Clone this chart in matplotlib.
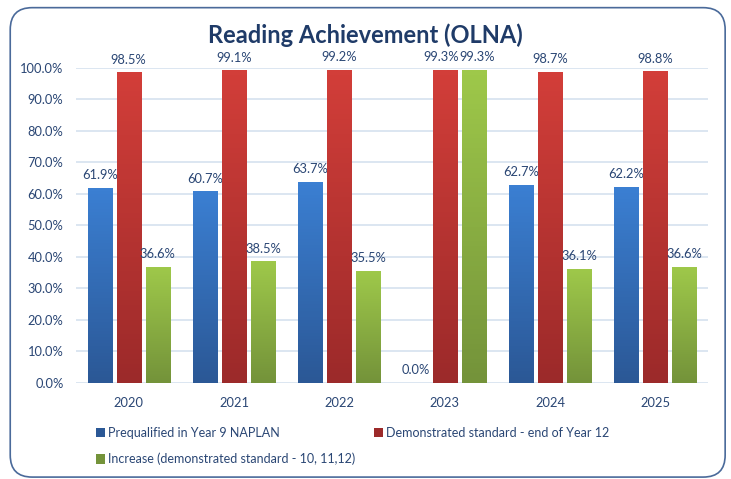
import numpy as np
import matplotlib.pyplot as plt
from matplotlib.patches import FancyBboxPatch
from matplotlib.colors import LinearSegmentedColormap

# data
years = ['2020', '2021', '2022', '2023', '2024', '2025']
prequalified = [61.9, 60.7, 63.7, 0.0, 62.7, 62.2]
demonstrated = [98.5, 99.1, 99.2, 99.3, 98.7, 98.8]
increase = [36.6, 38.5, 35.5, 99.3, 36.1, 36.6]
series_names = ['Prequalified in Year 9 NAPLAN',
                'Demonstrated standard - end of Year 12',
                'Increase (demonstrated standard - 10, 11,12)']

# (top colour, bottom colour) for the vertical gradient of each series
grads = [('#3B7FD2', '#2B5896'), ('#D23E39', '#9C2A2A'), ('#9EC84A', '#74933A')]
txt = '#2A4674'

plt.rcParams['font.family'] = ['Lato', 'DejaVu Sans']

fig = plt.figure(figsize=(7.31, 4.79), dpi=100)
fig.patch.set_facecolor('white')
frame = FancyBboxPatch((0.014, 0.004), 0.978, 0.98, boxstyle='round,pad=0,rounding_size=0.03',
                       transform=fig.transFigure, facecolor='none', edgecolor='#4A6A9A',
                       linewidth=1.2, mutation_aspect=731 / 479, zorder=-1)
fig.patches.append(frame)

ax = fig.add_axes([0.104, 0.201, 0.8646, 0.6576])
ax.set_facecolor('none')

x = np.arange(len(years))
w = 0.228
step = 0.275
handles = []
for i, (vals, (ctop, cbot)) in enumerate(zip([prequalified, demonstrated, increase], grads)):
    bars = ax.bar(x + (i - 1) * step, vals, w, color=cbot, label=series_names[i], zorder=2)
    handles.append(bars)
    cmap = LinearSegmentedColormap.from_list('g%d' % i, [cbot, ctop])
    for j, (b, v) in enumerate(zip(bars, vals)):
        if v > 0:
            ax.imshow(np.linspace(0, 1, 64).reshape(-1, 1), cmap=cmap, aspect='auto', origin='lower',
                      extent=[b.get_x(), b.get_x() + b.get_width(), 0, v], zorder=3)
        # 2023: red and green labels sit side by side, push them apart a little
        dx = 0
        if i > 0 and abs(demonstrated[j] - increase[j]) < 3:
            dx = -2.5 if i == 1 else 2.5
        ax.annotate('%.1f%%' % v, (b.get_x() + b.get_width() / 2, v), xytext=(dx, 5),
                    textcoords='offset points', ha='center', va='bottom', fontsize=9.3, color=txt)

ax.set_xlim(-0.5, len(years) - 0.5)
ax.set_ylim(0, 100)
ax.set_yticks(np.arange(0, 101, 10))
ax.set_yticklabels(['%.1f%%' % t for t in np.arange(0, 101, 10)])
ax.set_xticks(x)
ax.set_xticklabels(years)
ax.tick_params(length=0, labelsize=9.3, labelcolor=txt)
ax.tick_params(axis='x', pad=10)
ax.tick_params(axis='y', pad=9)
ax.grid(axis='y', color='#D6E1EF', linewidth=1.2, zorder=0)
for s in ax.spines.values():
    s.set_visible(False)

fig.text(0.5, 0.927, 'Reading Achievement (OLNA)', ha='center', va='center',
         fontsize=17, fontweight='bold', color='#1F3B68')

# column-major fill: put the third series under the first
order = [0, 2, 1]
leg = fig.legend([handles[k] for k in order], [series_names[k] for k in order],
                 loc='upper left', bbox_to_anchor=(96 / 731, 1 - 427 / 479), ncol=2, frameon=False,
                 fontsize=9, handlelength=0.75, handleheight=0.75, handletextpad=0.2,
                 columnspacing=1.5, labelspacing=1.1, borderpad=0, borderaxespad=0)
for t in leg.get_texts():
    t.set_color(txt)

fig.savefig('out.png', dpi=100)
